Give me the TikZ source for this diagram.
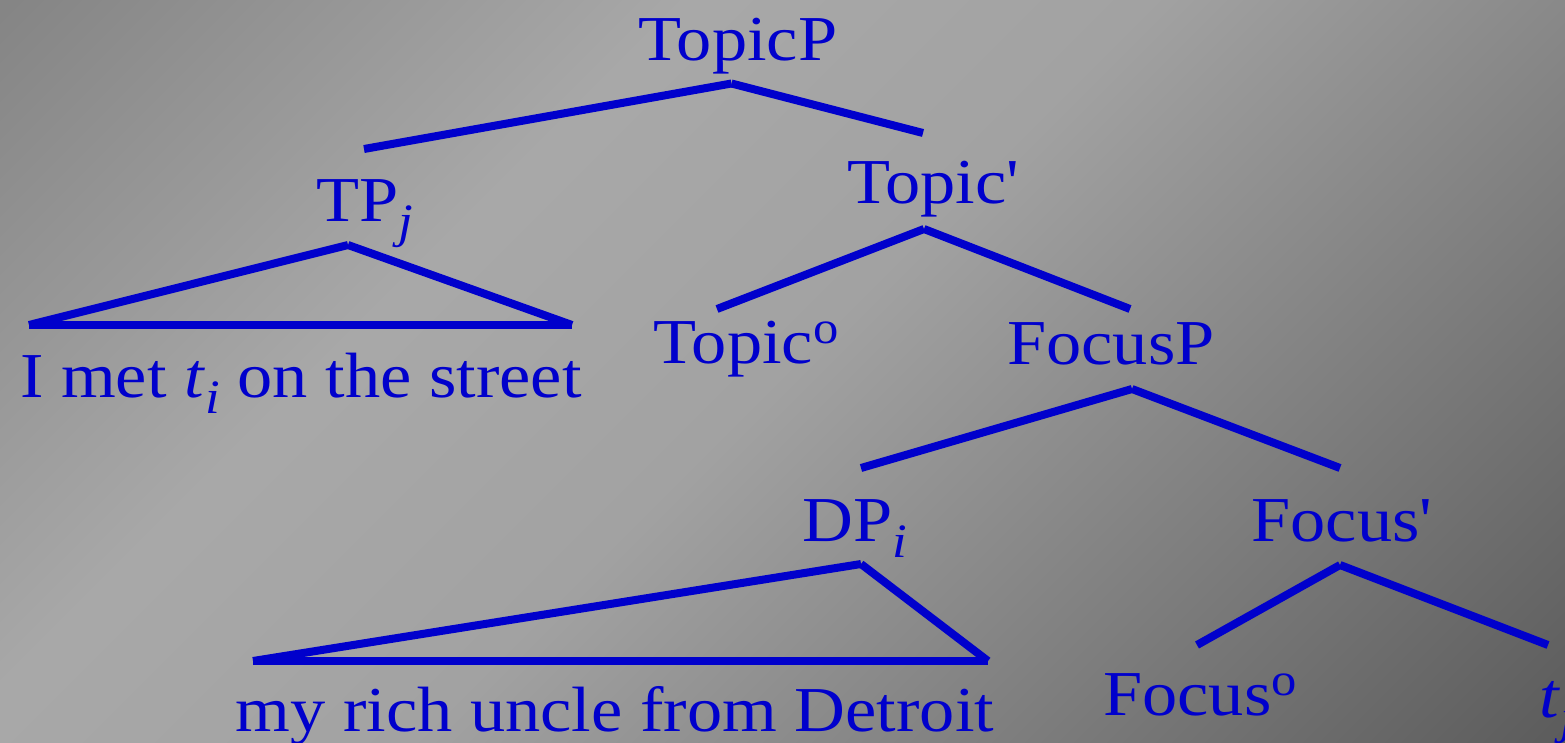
\documentclass[tikz,border=0pt]{standalone}
\usepackage{fontspec}
\setmainfont{Liberation Serif}[FakeStretch=1.1, Ligatures=TeXOff]

\definecolor{treeblue}{RGB}{0,0,204}
\definecolor{bgA}{gray}{0.52}
\definecolor{bgB}{gray}{0.66}
\definecolor{bgC}{gray}{0.635}
\definecolor{bgD}{gray}{0.36}
\pgfdeclarehorizontalshading{slidebg}{100bp}{color(0bp)=(bgA); color(14.64bp)=(bgA); color(35.85bp)=(bgB); color(50bp)=(bgC); color(85.36bp)=(bgD); color(100bp)=(bgD)}

\newcommand{\lsub}[1]{\raisebox{-.25em}{\fontsize{48}{48}\selectfont\itshape #1}}
\newcommand{\lsup}[1]{\raisebox{.3em}{\fontsize{46}{46}\selectfont #1}}

\begin{document}
\begin{tikzpicture}[x=1pt, y=-1pt,
    lbl/.style={font=\fontsize{64}{76}\selectfont, text=treeblue, inner sep=0pt, anchor=base},
    branch/.style={draw=treeblue, line width=8pt}]
  \useasboundingbox (0,0) rectangle (1565,743);
  \shade[shading=slidebg, shading angle=-45] (0,0) rectangle (1565,743);

  % labels
  \node[lbl] (topicp) at (738,61) {TopicP};
  \node[lbl] (tpj) at (365,222) {TP\lsub{j}};
  \node[lbl] (topicbar) at (933,204) {Topic'};
  \node[lbl] (tpstring) at (301,397) {I met \textit{t}\lsub{i} on the street};
  \node[lbl] (topichead) at (746,363) {Topic\lsup{o}};
  \node[lbl] (focusp) at (1111,364) {FocusP};
  \node[lbl] (dpi) at (855,541) {DP\lsub{i}};
  \node[lbl] (focusbar) at (1342,541) {Focus'};
  \node[lbl] (dpstring) at (615,731) {my rich uncle from Detroit};
  \node[lbl] (focushead) at (1200,715) {Focus\lsup{o}};
  \node[lbl, anchor=base west] (tj) at (1539,717) {\textit{t}\lsub{j}};

  % branch ends
  \coordinate (topicp-dn) at (731.5,83.5);
  \coordinate (tpj-up) at (364,149);
  \coordinate (tpj-dn) at (348,245);
  \coordinate (tpstring-l) at (29,325);
  \coordinate (tpstring-r) at (572,325);
  \coordinate (topicbar-up) at (923,133);
  \coordinate (topicbar-dn) at (924,229);
  \coordinate (topichead-up) at (717,309);
  \coordinate (focusp-up) at (1130,309);
  \coordinate (focusp-dn) at (1132,389);
  \coordinate (dpi-up) at (861,468);
  \coordinate (dpi-dn) at (861,564);
  \coordinate (dpstring-l) at (253,661);
  \coordinate (dpstring-r) at (988,661);
  \coordinate (focusbar-up) at (1340,468);
  \coordinate (focusbar-dn) at (1340,565);
  \coordinate (focushead-up) at (1197,645);
  \coordinate (tj-up) at (1548,645);

  % branches
  \draw[branch] (topicp-dn) -- (tpj-up);
  \draw[branch] (topicp-dn) -- (topicbar-up);
  \draw[branch] (tpj-dn) -- (tpstring-l);
  \draw[branch] (tpj-dn) -- (tpstring-r);
  \draw[branch] (tpstring-l) -- (tpstring-r);
  \draw[branch] (topicbar-dn) -- (topichead-up);
  \draw[branch] (topicbar-dn) -- (focusp-up);
  \draw[branch] (focusp-dn) -- (dpi-up);
  \draw[branch] (focusp-dn) -- (focusbar-up);
  \draw[branch] (dpi-dn) -- (dpstring-l);
  \draw[branch] (dpi-dn) -- (dpstring-r);
  \draw[branch] (dpstring-l) -- (dpstring-r);
  \draw[branch] (focusbar-dn) -- (focushead-up);
  \draw[branch] (focusbar-dn) -- (tj-up);
\end{tikzpicture}
\end{document}
